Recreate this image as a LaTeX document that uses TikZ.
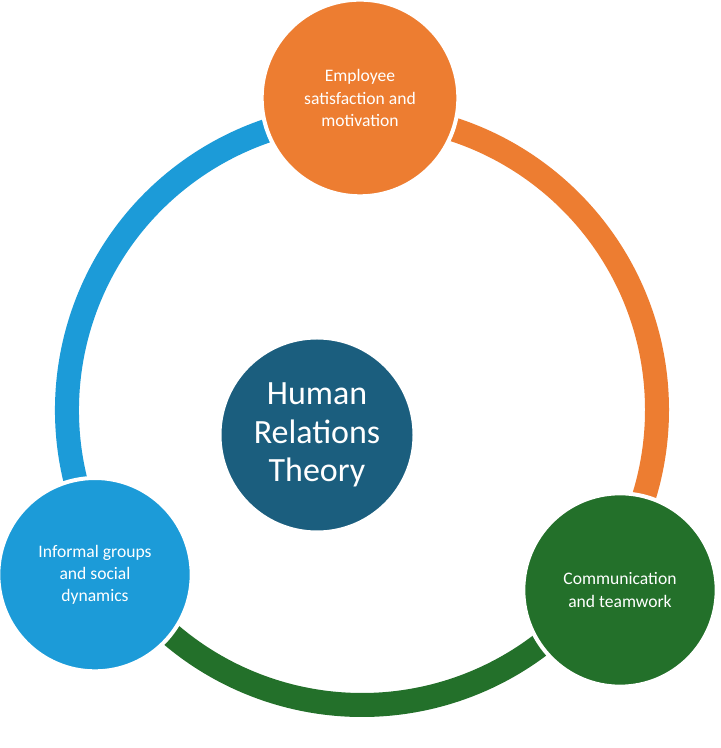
\documentclass[tikz,border=0pt]{standalone}
\usepackage{fontspec}
\setmainfont{Carlito}
\definecolor{corange}{HTML}{ED7D31}
\definecolor{cgreen}{HTML}{23702A}
\definecolor{cblue}{HTML}{1C9BD8}
\definecolor{cdark}{HTML}{1B5E7E}
\begin{document}
\begin{tikzpicture}[
  bub/.style={circle,draw=white,line width=1.2mm,text=white,align=center,inner sep=0pt},
  ring/.style={line width=0.72cm}]
\useasboundingbox[fill=white] (0,0) rectangle (21.6,22.44);
\coordinate (rc) at (10.86,10.14);
\draw[ring,corange] ([shift={(90:8.85)}]rc) arc[start angle=90,end angle=-36,radius=8.85];
\draw[ring,cgreen] ([shift={(-36:8.85)}]rc) arc[start angle=-36,end angle=-148,radius=8.85];
\draw[ring,cblue] ([shift={(212:8.85)}]rc) arc[start angle=212,end angle=90,radius=8.85];
\node[bub,fill=cdark,minimum size=5.85cm,font=\fontsize{29}{33}\selectfont] (c) at (9.51,9.39) {Human\\Relations\\Theory};
\node[bub,fill=corange,minimum size=5.9cm,font=\fontsize{15}{19}\selectfont] (t) at (10.8,19.5) {Employee\\satisfaction and\\motivation};
\node[bub,fill=cblue,minimum size=5.8cm,font=\fontsize{15}{19}\selectfont] (l) at (2.85,5.2) {Informal groups\\and social\\dynamics};
\node[bub,fill=cgreen,minimum size=5.8cm,font=\fontsize{15}{19}\selectfont] (r) at (18.6,4.74) {Communication\\and teamwork};
\end{tikzpicture}
\end{document}
